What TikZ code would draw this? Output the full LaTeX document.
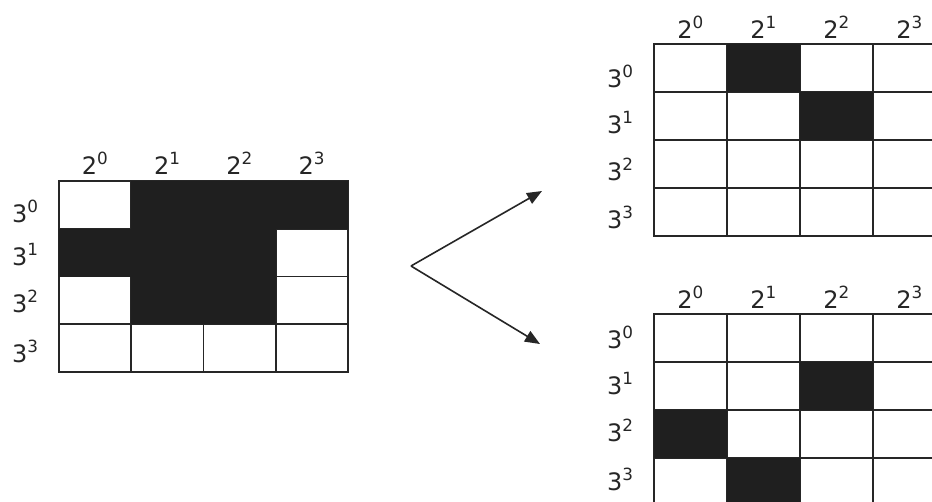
\documentclass[tikz,border=0pt]{standalone}
\usepackage{fontspec}
\setmainfont{DejaVu Sans}
\usetikzlibrary{arrows.meta}
\begin{document}
\begin{tikzpicture}[x=1pt,y=-1pt,
  lab/.style={font=\fontsize{24}{24}\selectfont, inner sep=0pt, text=black!85},
  cellfill/.style={fill=black!88},
  gridline/.style={line width=1.6pt, draw=black!85, line cap=rect},
  arr/.style={line width=1.6pt, draw=black!85, -{Triangle[length=15pt,width=12pt]}}]
\useasboundingbox (0,0) rectangle (932,501);
\clip (0,0) rectangle (932,501);
\fill[white] (0,0) rectangle (932,501);
% ---------- left grid ----------
\def\L{59}\def\T{181}\def\W{72.25}\def\H{47.75}
\foreach \i in {0,...,4} {
  \draw[gridline] ({\L+\i*\W},\T) -- ({\L+\i*\W},{\T+4*\H});
  \draw[gridline] (\L,{\T+\i*\H}) -- ({\L+4*\W},{\T+\i*\H});
}
\foreach \c/\r in {1/0,2/0,3/0,0/1,1/1,2/1,1/2,2/2}
  \fill[cellfill] ({\L+\c*\W},{\T+\r*\H}) rectangle ++(\W,\H);
\foreach \i/\b in {0/222,1/265,2/312,3/362} {
  \node[lab, anchor=base] (lc\i) at ({\L+(\i+0.5)*\W},174) {2\textsuperscript{\i}};
  \node[lab, anchor=base west] (lr\i) at (12,\b) {3\textsuperscript{\i}};
}
% ---------- top right grid ----------
\def\RL{654}\def\RW{73}\def\RH{48}
\def\TT{44}
\foreach \i in {0,...,4} {
  \draw[gridline] ({\RL+\i*\RW},\TT) -- ({\RL+\i*\RW},{\TT+4*\RH});
  \draw[gridline] (\RL,{\TT+\i*\RH}) -- ({\RL+4*\RW},{\TT+\i*\RH});
}
\foreach \c/\r in {1/0,2/1}
  \fill[cellfill] ({\RL+\c*\RW},{\TT+\r*\RH}) rectangle ++(\RW,\RH);
\foreach \i/\b in {0/87,1/133,2/180,3/228} {
  \node[lab, anchor=base] (tc\i) at ({\RL+(\i+0.5)*\RW},38) {2\textsuperscript{\i}};
  \node[lab, anchor=base west] (tr\i) at (607,\b) {3\textsuperscript{\i}};
}
% ---------- bottom right grid ----------
\def\BT{314}
\foreach \i in {0,...,4} {
  \draw[gridline] ({\RL+\i*\RW},\BT) -- ({\RL+\i*\RW},{\BT+4*\RH});
  \draw[gridline] (\RL,{\BT+\i*\RH}) -- ({\RL+4*\RW},{\BT+\i*\RH});
}
\foreach \c/\r in {2/1,0/2,1/3}
  \fill[cellfill] ({\RL+\c*\RW},{\BT+\r*\RH}) rectangle ++(\RW,\RH);
\foreach \i/\b in {0/348,1/394,2/441,3/490} {
  \node[lab, anchor=base] (bc\i) at ({\RL+(\i+0.5)*\RW},308) {2\textsuperscript{\i}};
  \node[lab, anchor=base west] (br\i) at (607,\b) {3\textsuperscript{\i}};
}
% ---------- arrows ----------
\coordinate (o) at (411,266);
\coordinate (up) at (542,191);
\coordinate (dn) at (540,344);
\draw[arr] (o) -- (up);
\draw[arr] (o) -- (dn);
\end{tikzpicture}
\end{document}
